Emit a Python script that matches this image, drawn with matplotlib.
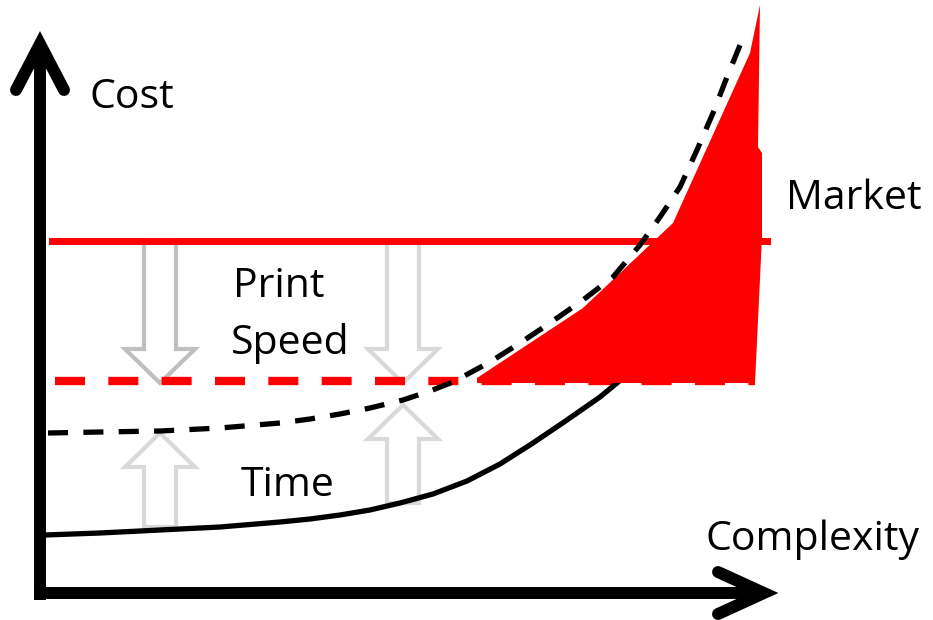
import matplotlib
matplotlib.use('Agg')
import matplotlib.pyplot as plt
from matplotlib.patches import Polygon

# everything in pixel units (x right, y down)
W, H = 933, 620

# axes arrows
yaxis_x = [40, 40]
yaxis_y = [600, 46]
xaxis_x = [34, 762]
xaxis_y = [593, 593]

# red levels
market_level = 241
target_level = 381

# current cost curve (solid)
cost_x = [45, 100, 160, 220, 280, 310, 340, 370, 400, 433, 467, 500, 533, 567, 600, 623]
cost_y = [535, 533, 530, 527, 522, 519, 515, 510, 503, 494, 481, 464, 443, 420, 397, 378]

# cost with time (dashed)
time_x = [48, 100, 160, 220, 280, 310, 340, 370, 403, 430, 453, 490, 520, 550, 583,
          613, 640, 660, 680, 697, 713, 727, 745]
time_y = [433, 432, 431, 428, 423, 419, 414, 408, 400, 391, 382, 362, 343, 323, 300,
          277, 245, 217, 187, 150, 113, 77, 33]

# market region
market_x = [477, 583, 673, 750, 760, 758, 762, 762, 755, 477]
market_y = [378, 308, 223, 53, 5, 147, 153, 237, 383, 383]

# hollow block arrows: (x centre, tail y, tip y, colour)
arrows = [
    (160, 240, 383, '#BFBFBF'),
    (403, 240, 383, '#D9D9D9'),
    (160, 527, 433, '#D9D9D9'),
    (403, 503, 405, '#D9D9D9'),
]

labels = ['Cost', 'Complexity', 'Market', 'Print', 'Speed', 'Time']

fig = plt.figure(figsize=(W / 100, H / 100), dpi=100)
ax = fig.add_axes([0, 0, 1, 1])
ax.set_xlim(0, W)
ax.set_ylim(H, 0)
ax.axis('off')

font = ['Open Sans', 'DejaVu Sans']

# block arrows
for xc, y0, y1, col in arrows:
    d = 1 if y1 > y0 else -1
    hb = y1 - d * 34   # head base
    pts = [(xc - 16, y0), (xc + 16, y0), (xc + 16, hb), (xc + 35, hb),
           (xc, y1), (xc - 35, hb), (xc - 16, hb)]
    ax.add_patch(Polygon(pts, closed=True, facecolor='white', edgecolor=col,
                         linewidth=3, zorder=2))

# market fill
ax.add_patch(Polygon(list(zip(market_x, market_y)), closed=True,
                     facecolor='#FF0000', edgecolor='none', zorder=4))

# red lines
ax.plot([52, 767], [market_level, market_level], color='#FF0000', lw=5, zorder=3)
ax.plot([55, 755], [target_level, target_level], color='#FF0000', lw=6,
        dashes=(3.6, 2.8), zorder=3)

# curves
ax.plot(cost_x, cost_y, color='black', lw=3.8, zorder=3)
ax.plot(time_x, time_y, color='black', lw=3.8, dashes=(3.8, 2.9), zorder=5)

# axes with open arrowheads
ax.plot(yaxis_x, yaxis_y, color='black', lw=8.6, solid_capstyle='butt', zorder=6)
ax.plot([16, 40, 64], [90, 44, 90], color='black', lw=8.6,
        solid_capstyle='round', solid_joinstyle='miter', zorder=6)
ax.plot(xaxis_x, xaxis_y, color='black', lw=8.6, solid_capstyle='butt', zorder=6)
ax.plot([718, 764, 718], [572, 593, 614], color='black', lw=8.6,
        solid_capstyle='round', solid_joinstyle='miter', zorder=6)

fs = 29.5
ax.text(89, 108, labels[0], fontsize=fs, family=font, va='baseline', ha='left')
ax.text(705, 550, labels[1], fontsize=fs, family=font, va='baseline', ha='left')
ax.text(786, 209, labels[2], fontsize=fs, family=font, va='baseline', ha='left')
ax.text(233, 297, labels[3], fontsize=fs, family=font, va='baseline', ha='left')
ax.text(231, 354, labels[4], fontsize=fs, family=font, va='baseline', ha='left')
ax.text(241, 496, labels[5], fontsize=fs, family=font, va='baseline', ha='left')

fig.savefig('out.png', dpi=100)
